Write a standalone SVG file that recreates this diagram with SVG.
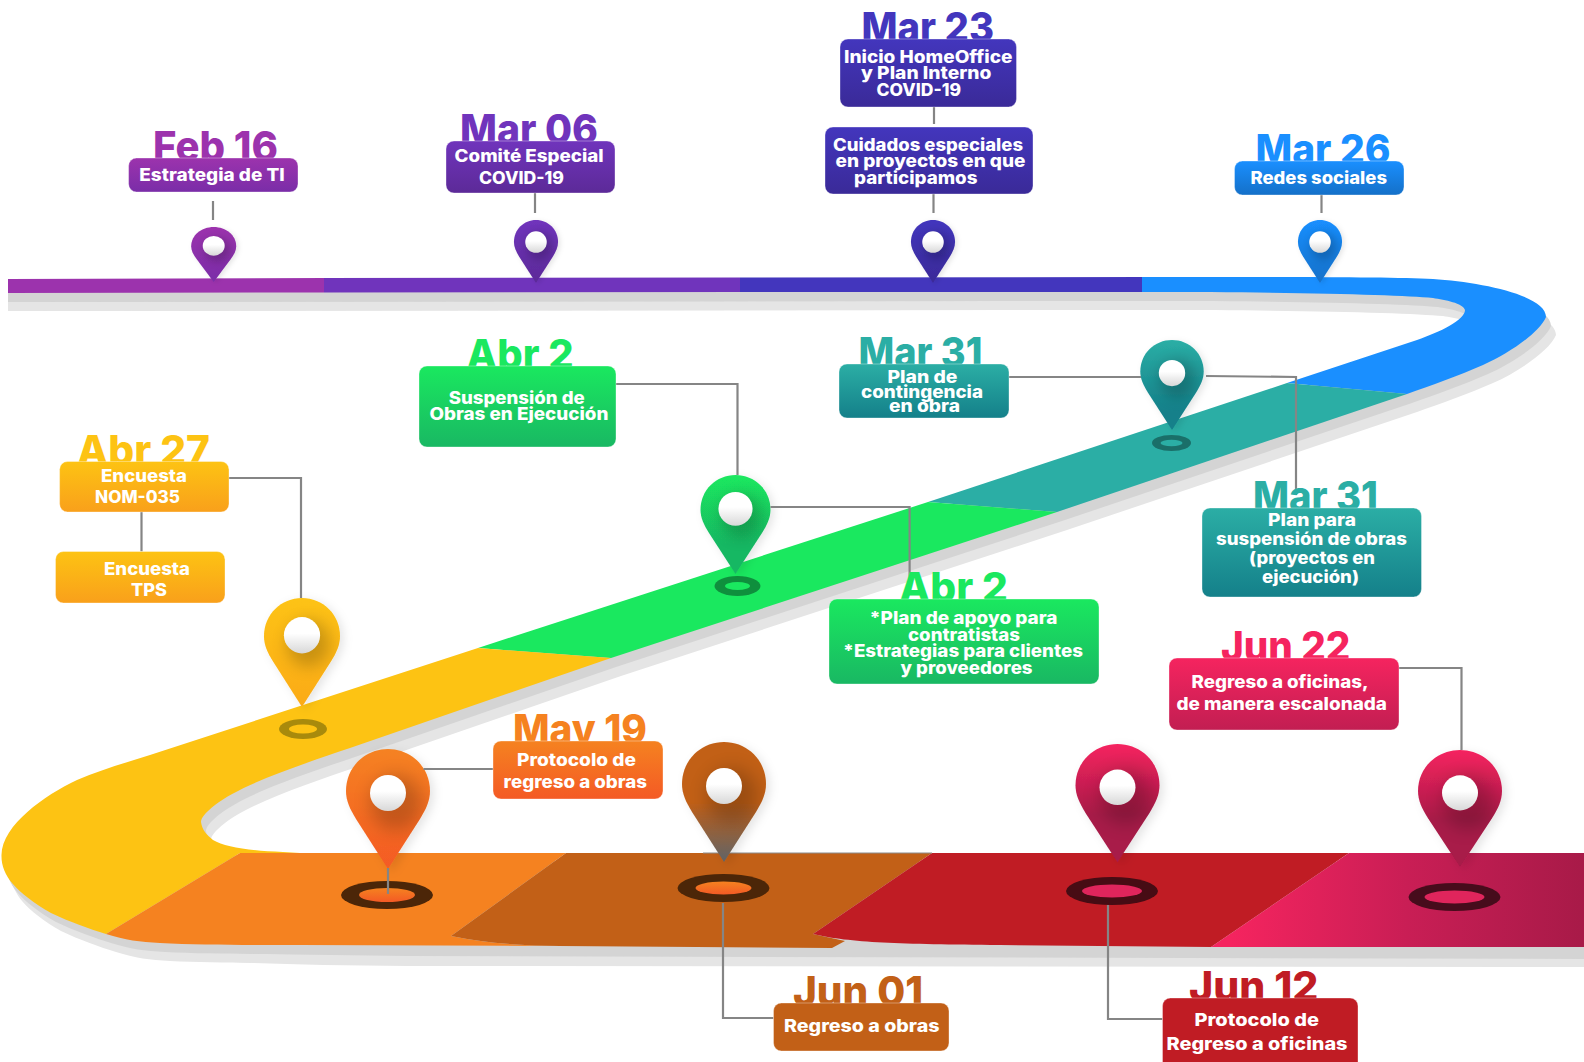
<svg xmlns="http://www.w3.org/2000/svg" width="1584" height="1062" viewBox="0 0 1584 1062">
<style>
text{font-family:"Inter","Liberation Sans",sans-serif;font-weight:800;text-anchor:start}
.t{font-size:41px}
.l{font-size:17px;fill:#fff}
.b{stroke:#fff;stroke-opacity:.35;stroke-width:1}
.c{fill:none;stroke:#858585;stroke-width:2.2}
.h{fill:url(#hole)}
.sh{fill:#000;opacity:.2;filter:url(#bl)}
</style>
<defs>
<path id="pinp" d="M0,120 L-32,70 C-38,60 -42,52 -42,42 C-42,18 -23,0 0,0 C23,0 42,18 42,42 C42,52 38,60 32,70 Z"/>
<clipPath id="pinc"><use href="#pinp"/></clipPath>
<filter id="ds" x="-50%" y="-30%" width="200%" height="160%"><feDropShadow dx="4" dy="3" stdDeviation="5" flood-color="#000" flood-opacity=".1"/></filter>
<filter id="bl" x="-50%" y="-50%" width="200%" height="200%"><feGaussianBlur stdDeviation="9"/></filter>
<linearGradient id="hole" x1="0" y1="0" x2="0" y2="1"><stop offset=".45" stop-color="#fff"/><stop offset="1" stop-color="#d8d8d8"/></linearGradient>
<linearGradient id="g1" x1="0" y1="0" x2="0" y2="1"><stop offset="0" stop-color="#9c33ad"/><stop offset="1" stop-color="#7a2da8"/></linearGradient>
<linearGradient id="g2" x1="0" y1="0" x2="0" y2="1"><stop offset="0" stop-color="#7034bc"/><stop offset="1" stop-color="#5c2a98"/></linearGradient>
<linearGradient id="g3" x1="0" y1="0" x2="0" y2="1"><stop offset="0" stop-color="#4336bd"/><stop offset="1" stop-color="#3a2a98"/></linearGradient>
<linearGradient id="g4" x1="0" y1="0" x2="0" y2="1"><stop offset="0" stop-color="#1a8fff"/><stop offset="1" stop-color="#1470c8"/></linearGradient>
<linearGradient id="g5" x1="0" y1="0" x2="0" y2="1"><stop offset="0" stop-color="#2baea5"/><stop offset="1" stop-color="#14808a"/></linearGradient>
<linearGradient id="g6" x1="0" y1="0" x2="0" y2="1"><stop offset="0" stop-color="#1ae85f"/><stop offset="1" stop-color="#19b863"/></linearGradient>
<linearGradient id="g7" x1="0" y1="0" x2="0" y2="1"><stop offset="0" stop-color="#fdc313"/><stop offset="1" stop-color="#f9a01b"/></linearGradient>
<linearGradient id="g8" x1="0" y1="0" x2="0" y2="1"><stop offset="0" stop-color="#f58220"/><stop offset="1" stop-color="#f45a25"/></linearGradient>
<linearGradient id="g9" x1="0" y1="0" x2="0" y2="1"><stop offset="0" stop-color="#f5245f"/><stop offset="1" stop-color="#c21e52"/></linearGradient>
<linearGradient id="p7" x1="0" y1="0" x2="0" y2="1"><stop offset="0" stop-color="#fdc313"/><stop offset="1" stop-color="#fbaa14"/></linearGradient>
<linearGradient id="pb" x1="0" y1="0" x2="0" y2="1"><stop offset=".5" stop-color="#c26017"/><stop offset="1" stop-color="#5f6468"/></linearGradient>
<linearGradient id="p9" x1="0" y1="0" x2="0" y2="1"><stop offset="0" stop-color="#f5245f"/><stop offset=".6" stop-color="#a81a48"/><stop offset="1" stop-color="#a81a48"/></linearGradient>
<linearGradient id="p6" x1="0" y1="0" x2="0" y2="1"><stop offset="0" stop-color="#1ae85f"/><stop offset=".7" stop-color="#19b863"/></linearGradient>
<linearGradient id="p5" x1="0" y1="0" x2="0" y2="1"><stop offset="0" stop-color="#2baea5"/><stop offset=".8" stop-color="#14808a"/></linearGradient>
<linearGradient id="pink" gradientUnits="userSpaceOnUse" x1="1230" y1="0" x2="1584" y2="0"><stop offset="0" stop-color="#f5245f"/><stop offset=".5" stop-color="#c91e55"/><stop offset="1" stop-color="#a81a48"/></linearGradient>
<path id="roadall" d="M8,279 L1142,277 C1300,277 1390,277 1433,279 C1480,282 1546,295 1546,317 C1540,332 1510,353 1483,365 C1460,375 1430,386 1407,394 L1057,512 L611,658 L350,748 C300,765 240,785 215,805 C205,813 201,818 201,822 C202,830 207,835 213,840 C225,847 250,851 283,852 L1584,853 L1584,947 L300,945 C250,945 200,945 160,943 C140,942 125,940 106,934 C90,929 70,922 51,913 C15,892 1,875 1.5,855 C2,825 45,795 77,780 C100,770 125,763 150,755 L478,648 L928,502 L1287,383 L1417,340 C1440,332 1465,320 1465,310 C1463,303 1445,300 1433,298 C1400,295 1300,292 1142,292 L8,293 Z"/>
</defs>

<g id="road">
<use href="#roadall" transform="translate(10,18)" fill="#e5e5e5"/>
<path fill="#e5e5e5" d="M8,293 L1000,293 L1000,310.1 L8,311 Z"/>
<path fill="#e5e5e5" d="M10,880 C20,905 50,925 102,940 C140,952 170,958 204,960 C250,964 320,965 408,966 L1584,967 L1584,930 Z"/>
<use href="#roadall" transform="translate(5,9)" fill="#d4d4d4"/>
<path fill="#d4d4d4" d="M8,293 L1000,293 L1000,301.1 L8,302 Z"/>
<path fill="#d4d4d4" d="M5,870 C15,895 40,910 66,920 C110,938 150,948 204,952 C270,955 340,955 408,956 L1584,959 L1584,930 Z"/>
<path fill="#9c33ad" d="M8,279 L324,278 L324,292.5 L8,293 Z"/>
<path fill="#7034bc" d="M324,278 L740,277.5 L740,292 L324,292.5 Z"/>
<path fill="#4336bd" d="M740,277.5 L1142,277 L1142,292 L740,292 Z"/>
<path fill="#1a8fff" d="M1142,277 C1300,277 1390,277 1433,279 C1480,282 1546,295 1546,317 C1540,332 1510,353 1483,365 C1460,375 1430,386 1407,394 L1287,383 L1417,340 C1440,332 1465,320 1465,310 C1463,303 1445,300 1433,298 C1400,295 1300,292 1142,292 Z"/>
<path fill="#2baea5" d="M1287,383 L1407,394 L1057,512 L928,502 Z"/>
<path fill="#1ae85f" d="M928,502 L1057,512 L611,658 L478,648 Z"/>
<path fill="#fdc313" d="M478,648 L611,658 L350,748 C300,765 240,785 215,805 C205,813 201,818 201,822 C202,830 207,835 213,840 C225,847 250,851 283,852 L300,853 L240,853 L106,934 C90,929 70,922 51,913 C15,892 1,875 1.5,855 C2,825 45,795 77,780 C100,770 125,763 150,755 Z"/>
<path fill="#f58220" d="M240,853 L566,853 L451,936 Q500,946 560,946 L300,945 C250,945 200,945 160,943 C140,942 125,940 106,934 Z"/>
<path fill="#c26017" d="M566,853 L932,853 L813,934 L845,941 L832,948 L560,946 Q500,946 451,936 Z"/>
<path fill="#c01c24" d="M932,853 L1349,853 L1211,947 L1000,945 C900,944 850,943 813,934 Z"/>
<path fill="url(#pink)" d="M1349,853 L1584,853 L1584,947 L1211,947 Z"/>
<path d="M703,853 H932" fill="none" stroke="#8a8a8a" stroke-width="1"/>
</g>

<g id="pin-feb16" transform="translate(213.7,227) scale(.536,.458)"><use href="#pinp" fill="url(#g1)" filter="url(#ds)"/><g clip-path="url(#pinc)"><ellipse class="sh" cx="7" cy="50" rx="24" ry="26"/></g><ellipse class="h" cx="0" cy="41" rx="20.5" ry="21.5"/></g>
<g id="pin-mar06" transform="translate(536,220) scale(.525,.525)"><use href="#pinp" fill="url(#g2)" filter="url(#ds)"/><g clip-path="url(#pinc)"><ellipse class="sh" cx="7" cy="50" rx="24" ry="26"/></g><circle class="h" cx="0" cy="42" r="20.5"/></g>
<g id="pin-mar23" transform="translate(933,220) scale(.525,.525)"><use href="#pinp" fill="url(#g3)" filter="url(#ds)"/><g clip-path="url(#pinc)"><ellipse class="sh" cx="7" cy="50" rx="24" ry="26"/></g><circle class="h" cx="0" cy="42" r="20.5"/></g>
<g id="pin-mar26" transform="translate(1320,220) scale(.525,.525)"><use href="#pinp" fill="url(#g4)" filter="url(#ds)"/><g clip-path="url(#pinc)"><ellipse class="sh" cx="7" cy="50" rx="24" ry="26"/></g><circle class="h" cx="0" cy="42" r="20.5"/></g>

<g id="pin-mar31">
<ellipse cx="1171.5" cy="443" rx="19.5" ry="8" fill="#1a6f69"/><ellipse cx="1171.5" cy="443" rx="11" ry="3.2" fill="#2baea5"/>
<g transform="translate(1172,340) scale(.755,.75)"><use href="#pinp" fill="url(#p5)" filter="url(#ds)"/><g clip-path="url(#pinc)"><ellipse class="sh" cx="7" cy="52" rx="24" ry="26"/></g><circle class="h" cx="0" cy="44" r="17.5"/></g>
</g>
<g id="pin-abr2">
<ellipse cx="737.5" cy="586" rx="23" ry="10" fill="#0f8f3d"/><ellipse cx="737.5" cy="586" rx="12.5" ry="4" fill="#1ae85f"/>
<g transform="translate(735.5,475) scale(.833,.825)"><use href="#pinp" fill="url(#p6)" filter="url(#ds)"/><g clip-path="url(#pinc)"><ellipse class="sh" cx="7" cy="50" rx="24" ry="26"/></g><circle class="h" cx="0" cy="41" r="20.5"/></g>
</g>
<g id="pin-abr27">
<ellipse cx="303" cy="729" rx="24" ry="10" fill="#a88a0c"/><ellipse cx="303" cy="729" rx="14" ry="4.5" fill="#fdc313"/>
<g transform="translate(302,598) scale(.905,.908)"><use href="#pinp" fill="url(#p7)" filter="url(#ds)"/><g clip-path="url(#pinc)"><ellipse class="sh" cx="7" cy="50" rx="24" ry="26" opacity=".14"/></g><circle class="h" cx="0" cy="41" r="20"/></g>
</g>
<g id="pin-may19">
<ellipse cx="387" cy="895" rx="46" ry="14" fill="#4c2608"/><ellipse cx="387" cy="895" rx="28" ry="7" fill="url(#g8)"/>
<g transform="translate(388,749)"><use href="#pinp" fill="url(#g8)" filter="url(#ds)"/><g clip-path="url(#pinc)"><ellipse class="sh" cx="8" cy="54" rx="26" ry="28"/></g><circle class="h" cx="0" cy="44" r="18"/></g>
</g>
<g id="pin-jun01">
<ellipse cx="723.5" cy="888" rx="46" ry="14" fill="#4c2608"/><ellipse cx="723.5" cy="888" rx="28" ry="6.5" fill="url(#g8)"/>
<g transform="translate(724,742)"><use href="#pinp" fill="url(#pb)" filter="url(#ds)"/><g clip-path="url(#pinc)"><ellipse class="sh" cx="8" cy="54" rx="26" ry="28"/></g><circle class="h" cx="0" cy="44" r="18"/></g>
</g>
<g id="pin-jun12">
<ellipse cx="1112" cy="891" rx="46" ry="14" fill="#470c14"/><ellipse cx="1112" cy="891" rx="30" ry="6.5" fill="#e0255c"/>
<g transform="translate(1117.5,744) scale(1,.985)"><use href="#pinp" fill="url(#p9)" filter="url(#ds)"/><g clip-path="url(#pinc)"><ellipse class="sh" cx="8" cy="54" rx="26" ry="28"/></g><circle class="h" cx="0" cy="44" r="18"/></g>
</g>
<g id="pin-jun22">
<ellipse cx="1454.5" cy="897" rx="46" ry="14" fill="#470c1c"/><ellipse cx="1454.5" cy="897" rx="30" ry="6.5" fill="#e0255c"/>
<g transform="translate(1460,750) scale(1,.975)"><use href="#pinp" fill="url(#p9)" filter="url(#ds)"/><g clip-path="url(#pinc)"><ellipse class="sh" cx="8" cy="54" rx="26" ry="28"/></g><circle class="h" cx="0" cy="44" r="18"/></g>
</g>

<g id="connectors">
<path class="c" d="M213,201 V220"/>
<path class="c" d="M535,193 V213"/>
<path class="c" d="M934,107 V124"/>
<path class="c" d="M933.5,194 V213"/>
<path class="c" d="M1321.5,195 V213"/>
<path class="c" d="M1009,377 H1141"/>
<path class="c" d="M1206,376 L1296,377 V495"/>
<path class="c" d="M616,384 H737.5 V475"/>
<path class="c" d="M770.5,507 H909.6 V578"/>
<path class="c" d="M229,478 H301 V598"/>
<path class="c" d="M141.5,512 V551.5"/>
<path class="c" d="M423.5,769 H493"/>
<path class="c" d="M388,868 V894"/>
<path class="c" d="M723,903 V1018 H773.5"/>
<path class="c" d="M1108,905 V1019 H1162.5"/>
<path class="c" d="M1399,668 H1461.5 V750"/>
</g>

<g id="node-feb16">
<text class="t" x="153" y="161" fill="#9c33ad" textLength="125" lengthAdjust="spacingAndGlyphs">Feb 16</text>
<rect class="b" x="128.6" y="158" width="169.4" height="34" rx="8" fill="url(#g1)"/>
<text class="l" x="139.3" y="181" textLength="145.4" lengthAdjust="spacingAndGlyphs">Estrategia de TI</text>
</g>
<g id="node-mar06">
<text class="t" x="460" y="144" fill="#7034bc" textLength="138" lengthAdjust="spacingAndGlyphs">Mar 06</text>
<rect class="b" x="446" y="141" width="169" height="52" rx="8" fill="url(#g2)"/>
<text class="l" x="454.6" y="162" textLength="149" lengthAdjust="spacingAndGlyphs">Comité Especial</text>
<text class="l" x="479" y="184" textLength="85" lengthAdjust="spacingAndGlyphs">COVID-19</text>
</g>
<g id="node-mar23">
<text class="t" x="861.5" y="42" fill="#4336bd" textLength="132.5" lengthAdjust="spacingAndGlyphs">Mar 23</text>
<rect class="b" x="840" y="39" width="176.5" height="68" rx="8" fill="url(#g3)"/>
<text class="l" x="844" y="63" textLength="168.5" lengthAdjust="spacingAndGlyphs">Inicio HomeOffice</text>
<text class="l" x="861" y="79" textLength="130.5" lengthAdjust="spacingAndGlyphs">y Plan Interno</text>
<text class="l" x="876.5" y="96" textLength="84.5" lengthAdjust="spacingAndGlyphs">COVID-19</text>
<rect class="b" x="825" y="127" width="208" height="67" rx="8" fill="url(#g3)"/>
<text class="l" x="833" y="151" textLength="190" lengthAdjust="spacingAndGlyphs">Cuidados especiales</text>
<text class="l" x="835.5" y="167" textLength="190" lengthAdjust="spacingAndGlyphs">en proyectos en que</text>
<text class="l" x="854" y="184" textLength="123.5" lengthAdjust="spacingAndGlyphs">participamos</text>
</g>
<g id="node-mar26">
<text class="t" x="1255.5" y="164" fill="#1a8fff" textLength="135" lengthAdjust="spacingAndGlyphs">Mar 26</text>
<rect class="b" x="1234.5" y="161" width="169.5" height="34" rx="8" fill="url(#g4)"/>
<text class="l" x="1250.5" y="184" textLength="136.5" lengthAdjust="spacingAndGlyphs">Redes sociales</text>
</g>
<g id="node-mar31a">
<text class="t" x="858.5" y="367" fill="#2baea5" textLength="124" lengthAdjust="spacingAndGlyphs">Mar 31</text>
<rect class="b" x="839" y="364" width="170" height="54" rx="8" fill="url(#g5)"/>
<text class="l" x="887.5" y="383" textLength="70" lengthAdjust="spacingAndGlyphs">Plan de</text>
<text class="l" x="861" y="398" textLength="122" lengthAdjust="spacingAndGlyphs">contingencia</text>
<text class="l" x="889" y="412" textLength="71" lengthAdjust="spacingAndGlyphs">en obra</text>
</g>
<g id="node-mar31b">
<text class="t" x="1253" y="511" fill="#2baea5" textLength="125" lengthAdjust="spacingAndGlyphs">Mar 31</text>
<rect class="b" x="1202" y="508" width="219.5" height="89" rx="8" fill="url(#g5)"/>
<text class="l" x="1268" y="526" textLength="88" lengthAdjust="spacingAndGlyphs">Plan para</text>
<text class="l" x="1216" y="545" textLength="191" lengthAdjust="spacingAndGlyphs">suspensión de obras</text>
<text class="l" x="1249" y="564" textLength="126" lengthAdjust="spacingAndGlyphs">(proyectos en</text>
<text class="l" x="1262" y="583" textLength="97" lengthAdjust="spacingAndGlyphs">ejecución)</text>
</g>
<g id="node-abr2a">
<text class="t" x="466.6" y="369" fill="#1ae85f" textLength="107" lengthAdjust="spacingAndGlyphs">Abr 2</text>
<rect class="b" x="419" y="366" width="197" height="81" rx="8" fill="url(#g6)"/>
<text class="l" x="448.7" y="404" textLength="136" lengthAdjust="spacingAndGlyphs">Suspensión de</text>
<text class="l" x="429.4" y="420" textLength="179" lengthAdjust="spacingAndGlyphs">Obras en Ejecución</text>
</g>
<g id="node-abr2b">
<text class="t" x="899" y="602" fill="#1ae85f" textLength="109" lengthAdjust="spacingAndGlyphs">Abr 2</text>
<rect class="b" x="829" y="599" width="270" height="85" rx="8" fill="url(#g6)"/>
<text class="l" x="869.5" y="624" textLength="188" lengthAdjust="spacingAndGlyphs">*Plan de apoyo para</text>
<text class="l" x="908" y="641" textLength="112" lengthAdjust="spacingAndGlyphs">contratistas</text>
<text class="l" x="843" y="657" textLength="240" lengthAdjust="spacingAndGlyphs">*Estrategias para clientes</text>
<text class="l" x="900.5" y="674" textLength="132" lengthAdjust="spacingAndGlyphs">y proveedores</text>
</g>
<g id="node-abr27">
<text class="t" x="77" y="465" fill="#fdc313" textLength="133" lengthAdjust="spacingAndGlyphs">Abr 27</text>
<rect class="b" x="59.6" y="461.5" width="169.4" height="50.5" rx="8" fill="url(#g7)"/>
<text class="l" x="101" y="482" textLength="86" lengthAdjust="spacingAndGlyphs">Encuesta</text>
<text class="l" x="95" y="503" textLength="85" lengthAdjust="spacingAndGlyphs">NOM-035</text>
<rect class="b" x="55.5" y="551.5" width="169.5" height="51.5" rx="8" fill="url(#g7)"/>
<text class="l" x="104" y="575" textLength="86" lengthAdjust="spacingAndGlyphs">Encuesta</text>
<text class="l" x="131" y="596" textLength="36" lengthAdjust="spacingAndGlyphs">TPS</text>
</g>
<g id="node-may19">
<text class="t" x="513" y="744" fill="#f58220" textLength="134" lengthAdjust="spacingAndGlyphs">May 19</text>
<rect class="b" x="493" y="741" width="170" height="58" rx="8" fill="url(#g8)"/>
<text class="l" x="517" y="766" textLength="119" lengthAdjust="spacingAndGlyphs">Protocolo de</text>
<text class="l" x="503.6" y="788" textLength="143.4" lengthAdjust="spacingAndGlyphs">regreso a obras</text>
</g>
<g id="node-jun01">
<text class="t" x="793" y="1006" fill="#c26017" textLength="130" lengthAdjust="spacingAndGlyphs">Jun 01</text>
<rect class="b" x="773.5" y="1003" width="175.5" height="48" rx="8" fill="#c26017"/>
<text class="l" x="784" y="1032" textLength="155.5" lengthAdjust="spacingAndGlyphs">Regreso a obras</text>
</g>
<g id="node-jun12">
<text class="t" x="1189" y="1001" fill="#c01c24" textLength="129.5" lengthAdjust="spacingAndGlyphs">Jun 12</text>
<rect class="b" x="1162.5" y="998" width="195.5" height="72" rx="8" fill="#c01c24"/>
<text class="l" x="1194.5" y="1026" textLength="124.5" lengthAdjust="spacingAndGlyphs">Protocolo de</text>
<text class="l" x="1166.5" y="1050" textLength="181" lengthAdjust="spacingAndGlyphs">Regreso a oficinas</text>
</g>
<g id="node-jun22">
<text class="t" x="1221" y="661" fill="#f5245f" textLength="129.5" lengthAdjust="spacingAndGlyphs">Jun 22</text>
<rect class="b" x="1169" y="658" width="230" height="72" rx="8" fill="url(#g9)"/>
<text class="l" x="1191.5" y="688" textLength="177" lengthAdjust="spacingAndGlyphs">Regreso a oficinas,</text>
<text class="l" x="1176.5" y="710" textLength="210.5" lengthAdjust="spacingAndGlyphs">de manera escalonada</text>
</g>
</svg>
